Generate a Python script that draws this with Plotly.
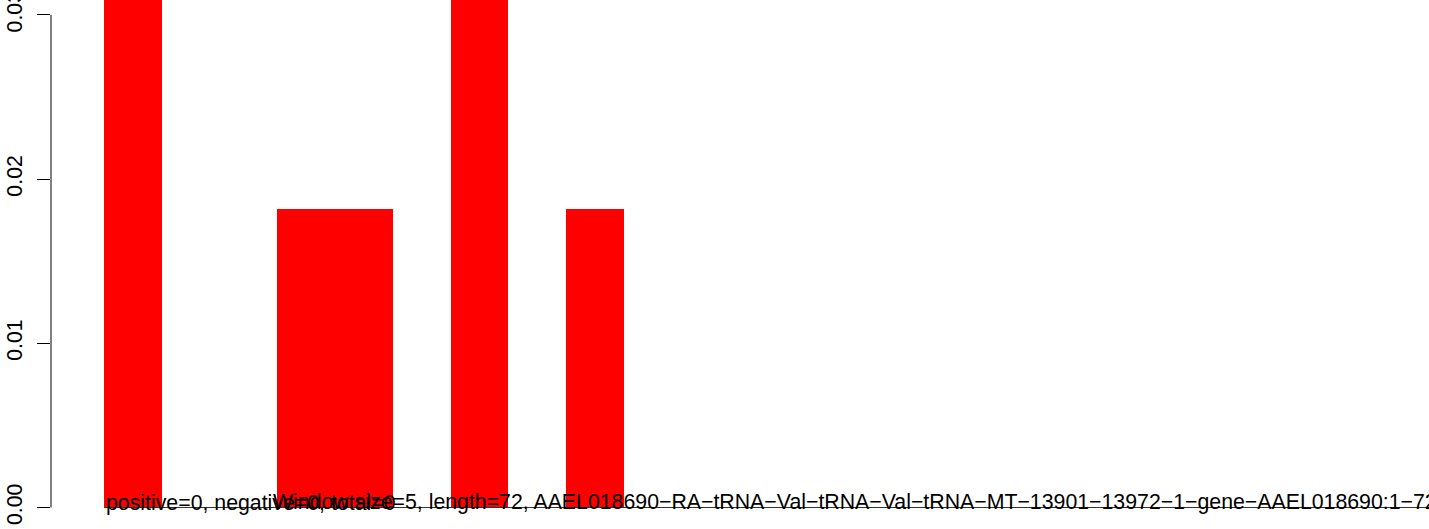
import plotly.graph_objects as go

# ---- data ----
positions = list(range(23))
values = [0.0364, 0, 0, 0.0182, 0.0182, 0, 0.0364, 0, 0.0182] + [0] * 14
y_ticks = [0.00, 0.01, 0.02, 0.03]
y_tick_labels = ["0.00", "0.01", "0.02", "0.03"]
title_left = "positive=0, negative=0, total=0"
title_right = ("Window size=5, length=72, AAEL018690\u2212RA\u2212tRNA\u2212Val\u2212tRNA\u2212Val\u2212tRNA\u2212MT"
               "\u221213901\u221213972\u22121\u2212gene\u2212AAEL018690:1\u221272")

W, H = 1429, 529
ML = 51
px_per_unit = 57.75
x0_px = 104
x_lo = -(x0_px - ML) / px_per_unit
x_hi = x_lo + (W - ML) / px_per_unit

zero_px = 507.5
per_px = 0.01 / 164.2
y_hi = zero_px * per_px
y_lo = -(H - zero_px) * per_px

fig = go.Figure()
fig.add_trace(go.Bar(
    x=[p + 0.5 for p in positions], y=values, width=1.0,
    marker=dict(color="#ff0000", line=dict(width=0)),
    showlegend=False, hoverinfo="skip",
))

font = dict(family="Liberation Sans, Arial, sans-serif", size=21.3, color="black")

# baseline line
fig.add_shape(type="line", xref="x", yref="y", x0=0, x1=len(positions), y0=0, y1=0,
              line=dict(color="#333333", width=1))
# y axis line (R style, between first and last tick)
fig.add_shape(type="line", xref="paper", yref="y", x0=0, x1=0, y0=y_ticks[0], y1=y_ticks[-1],
              line=dict(color="black", width=1))

fig.add_annotation(text=title_left, x=0, xref="x", y=0, yref="y",
                   xanchor="left", yanchor="bottom", yshift=-9, showarrow=False, font=font)
fig.add_annotation(text=title_right, x=(271 - x0_px) / px_per_unit, xref="x", y=0, yref="y",
                   xanchor="left", yanchor="bottom", yshift=-9, showarrow=False, font=font)

fig.update_layout(
    width=W, height=H,
    margin=dict(l=ML, r=0, t=0, b=0, autoexpand=False),
    paper_bgcolor="white", plot_bgcolor="white",
    bargap=0,
    xaxis=dict(range=[x_lo, x_hi], visible=False, automargin=False),
    yaxis=dict(range=[y_lo, y_hi], tickvals=y_ticks, ticktext=y_tick_labels,
               ticks="outside", ticklen=13, tickcolor="black", tickwidth=1,
               tickangle=-90, showgrid=False, zeroline=False, showline=False,
               ticklabelstandoff=6,
               automargin=False, ticklabeloverflow="allow", tickfont=font),
)

fig.write_html("out.html", config={"displayModeBar": False},
               post_script="document.body.style.margin='0';")
